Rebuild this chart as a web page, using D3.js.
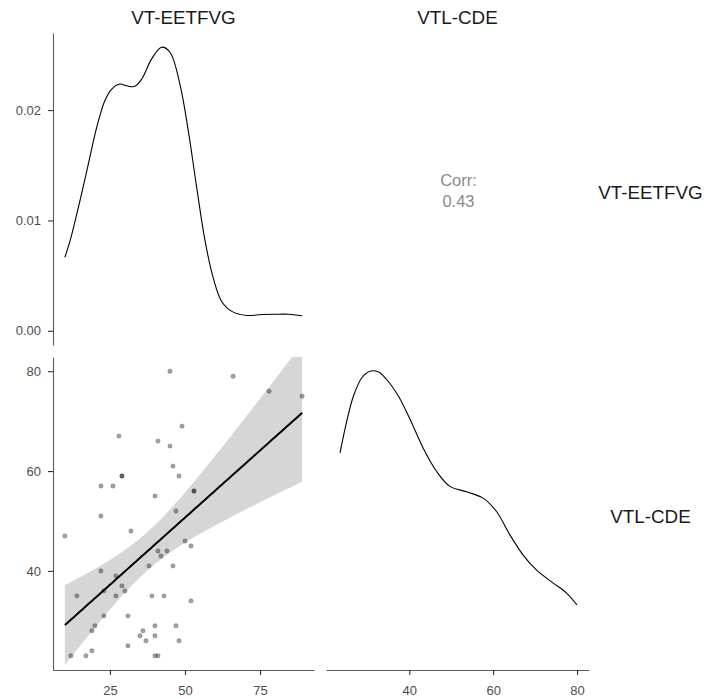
<!DOCTYPE html>
<html>
<head>
<meta charset="utf-8">
<script src="https://cdn.jsdelivr.net/npm/d3@7"></script>
<style>
  html, body { margin: 0; padding: 0; background: #fff; }
  svg { display: block; font-family: "Liberation Sans", Arial, sans-serif; }
</style>
</head>
<body>
<svg id="chart" width="707" height="699"></svg>
<script>
// ---------------- data ----------------
const varNames = ["VT-EETFVG", "VTL-CDE"];

// scatter points (VT-EETFVG on x, VTL-CDE on y)
const ptsX = [10,12,14,17,19,19,20,22,22,22,23,23,26,27,27,28,29,29,29,30,31,31,32,35,36,37,38,39,40,40,40,40,41,41,41,42,43,44,45,45,46,46,47,47,48,48,49,50,52,52,53,53,66,78,89];
const ptsY = [47,23,35,23,24,28,29,40,51,57,31,36,57,39,35,67,59,59,37,36,31,25,48,27,28,26,41,35,55,29,27,23,23,66,44,43,35,44,80,65,61,41,52,29,59,26,69,46,45,34,56,56,79,76,75];

// density of VT-EETFVG
const densAx = [10,11.7,15,17.8,20.6,23.3,25.6,28.3,30.6,33.3,35.6,38.9,42.2,45,48.3,51.1,53.9,56.7,59.4,62.2,65.6,70.6,75.6,80,84.4,89];
const densAy = [0.00667,0.00812,0.01176,0.0151,0.01843,0.02085,0.0219,0.02236,0.0222,0.02215,0.02282,0.02464,0.0257,0.02524,0.02236,0.01812,0.01297,0.00812,0.00479,0.00266,0.00176,0.00139,0.00148,0.0015,0.0015,0.00136];

// density of VTL-CDE (relative height scaled to a peak of ~0.0275)
const densBx = [23.5,25.1,26.7,28.7,30.6,32.6,34.6,37.4,40.2,43.3,46.5,49.7,53.7,57.6,60.8,64.0,67.1,70.3,74.3,77.5,80];
const densBrel = [0.712,0.823,0.911,0.975,0.998,0.996,0.969,0.911,0.829,0.729,0.647,0.594,0.575,0.553,0.506,0.424,0.354,0.301,0.255,0.220,0.178];
const densBy = densBrel.map(v => v * 0.0275);

const corrLabel = "Corr:";
const corrValue = "0.43";

const ticksAx = [25, 50, 75];
const ticksBx = [40, 60, 80];
const ticksBy = [40, 60, 80];
const ticksDens = [0, 0.01, 0.02];

// ---------------- layout ----------------
const svg = d3.select("#chart");
const col = [{x0: 53, x1: 314}, {x0: 326, x1: 589}];
const row = [{y0: 33, y1: 345}, {y0: 357, y1: 670}];

function expand(ext, m = 0.05) {
  const d = ext[1] - ext[0];
  return [ext[0] - d * m, ext[1] + d * m];
}

const xA = d3.scaleLinear().domain(expand(d3.extent(ptsX))).range([col[0].x0, col[0].x1]);
const yB = d3.scaleLinear().domain(expand(d3.extent(ptsY))).range([row[1].y1, row[1].y0]);
const xB = d3.scaleLinear().domain(expand(d3.extent(ptsY))).range([col[1].x0, col[1].x1]);
const yDensA = d3.scaleLinear().domain(expand([0, d3.max(densAy)])).range([row[0].y1, row[0].y0]);
const yDensB = d3.scaleLinear().domain(expand([0, d3.max(densBy)])).range([row[1].y1, row[1].y0]);

// clip paths
const defs = svg.append("defs");
defs.append("clipPath").attr("id", "clipBL")
  .append("rect").attr("x", col[0].x0).attr("y", row[1].y0)
  .attr("width", col[0].x1 - col[0].x0).attr("height", row[1].y1 - row[1].y0);

// ---------------- top-left: density of VT-EETFVG ----------------
const lineGen = (sx, sy) => d3.line().x(d => sx(d[0])).y(d => sy(d[1])).curve(d3.curveCatmullRom.alpha(0.5));

svg.append("path")
  .datum(densAx.map((x, i) => [x, densAy[i]]))
  .attr("d", lineGen(xA, yDensA))
  .attr("fill", "none").attr("stroke", "#000").attr("stroke-width", 1.1);

// ---------------- bottom-left: scatter + lm ----------------
const n = ptsX.length;
const mx = d3.mean(ptsX), my = d3.mean(ptsY);
let sxx = 0, sxy = 0;
for (let i = 0; i < n; i++) { sxx += (ptsX[i] - mx) ** 2; sxy += (ptsX[i] - mx) * (ptsY[i] - my); }
const slope = sxy / sxx, intercept = my - slope * mx;
let sse = 0;
for (let i = 0; i < n; i++) { sse += (ptsY[i] - (intercept + slope * ptsX[i])) ** 2; }
const s = Math.sqrt(sse / (n - 2));
const tq = 2.0057;
const xmin = d3.min(ptsX), xmax = d3.max(ptsX);
const fit = d3.range(0, 81).map(k => {
  const x = xmin + (xmax - xmin) * k / 80;
  const yhat = intercept + slope * x;
  const se = s * Math.sqrt(1 / n + (x - mx) ** 2 / sxx);
  return {x, yhat, lo: yhat - tq * se, hi: yhat + tq * se};
});

const gBL = svg.append("g").attr("clip-path", "url(#clipBL)");
gBL.append("path").datum(fit)
  .attr("d", d3.area().x(d => xA(d.x)).y0(d => yB(d.lo)).y1(d => yB(d.hi)))
  .attr("fill", "#d6d6d6");

gBL.selectAll("circle").data(ptsX.map((x, i) => [x, ptsY[i]])).join("circle")
  .attr("cx", d => xA(d[0])).attr("cy", d => yB(d[1])).attr("r", 2.2)
  .attr("fill", "#000").attr("fill-opacity", 0.36)
  .attr("stroke", "#000").attr("stroke-opacity", 0.3).attr("stroke-width", 0.6);

gBL.append("path").datum(fit)
  .attr("d", d3.line().x(d => xA(d.x)).y(d => yB(d.yhat)))
  .attr("fill", "none").attr("stroke", "#000").attr("stroke-width", 2);

// ---------------- bottom-right: density of VTL-CDE ----------------
svg.append("path")
  .datum(densBx.map((x, i) => [x, densBy[i]]))
  .attr("d", lineGen(xB, yDensB))
  .attr("fill", "none").attr("stroke", "#000").attr("stroke-width", 1.1);

// ---------------- top-right: correlation ----------------
const cx = (col[1].x0 + col[1].x1) / 2;
svg.append("text").attr("x", cx + 1).attr("y", 185.5).attr("text-anchor", "middle")
  .attr("font-size", 16.5).attr("fill", "#8a8a8a").text(corrLabel);
svg.append("text").attr("x", cx + 1).attr("y", 207.3).attr("text-anchor", "middle")
  .attr("font-size", 16.5).attr("fill", "#8a8a8a").text(corrValue);

// ---------------- axes ----------------
function styleAxis(g) {
  g.select(".domain").attr("stroke", "#5a5a5a").attr("stroke-width", 1.1);
  g.selectAll(".tick line").attr("stroke", "#333").attr("stroke-width", 1.1);
  g.selectAll(".tick text").attr("fill", "#4d4d4d").attr("font-size", 13)
    .attr("font-family", "Liberation Sans, Arial, sans-serif");
}

// left axis, top-left (density)
svg.append("g").attr("transform", `translate(${col[0].x0},0)`)
  .call(d3.axisLeft(yDensA).tickValues(ticksDens).tickFormat(d3.format(".2f")).tickSize(5).tickPadding(7).tickSizeOuter(0))
  .call(styleAxis);

// left axis, bottom-left
svg.append("g").attr("transform", `translate(${col[0].x0},0)`)
  .call(d3.axisLeft(yB).tickValues(ticksBy).tickSize(5).tickPadding(7).tickSizeOuter(0))
  .call(styleAxis);

// bottom axis, bottom-left
svg.append("g").attr("transform", `translate(0,${row[1].y1})`)
  .call(d3.axisBottom(xA).tickValues(ticksAx).tickSize(5).tickPadding(11).tickSizeOuter(0))
  .call(styleAxis);

// bottom axis, bottom-right
svg.append("g").attr("transform", `translate(0,${row[1].y1})`)
  .call(d3.axisBottom(xB).tickValues(ticksBx).tickSize(5).tickPadding(11).tickSizeOuter(0))
  .call(styleAxis);

// ---------------- strip labels ----------------
const stripFont = 18.8;
col.forEach((c, i) => {
  svg.append("text").attr("x", (c.x0 + c.x1) / 2).attr("y", 24.3).attr("text-anchor", "middle")
    .attr("font-size", stripFont).attr("fill", "#1a1a1a").text(varNames[i]);
});
row.forEach((r, i) => {
  svg.append("text").attr("x", 650.5).attr("y", (r.y0 + r.y1) / 2 + 9.5).attr("text-anchor", "middle")
    .attr("font-size", stripFont).attr("fill", "#1a1a1a").text(varNames[i]);
});
</script>
</body>
</html>
